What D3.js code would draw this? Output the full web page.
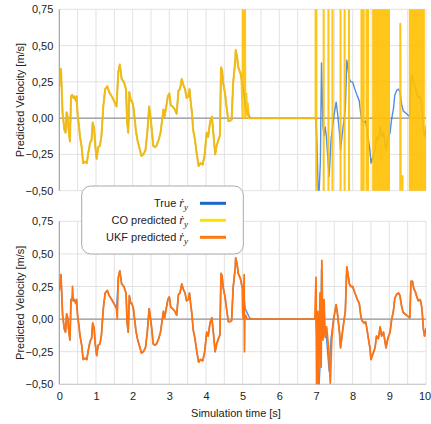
<!DOCTYPE html>
<html>
<head>
<meta charset="utf-8">
<script src="https://cdn.jsdelivr.net/npm/d3@7"></script>
<style>
  body { margin: 0; background: #fff; }
  text { font-family: "Liberation Sans", Arial, sans-serif; fill: #222; }
</style>
</head>
<body>
<div id="chart"></div>
<script>
// Tick values
var xTickValues = [0, 1, 2, 3, 4, 5, 6, 7, 8, 9, 10];
var xGridValues = [0, 0.5, 1, 1.5, 2, 2.5, 3, 3.5, 4, 4.5, 5, 5.5, 6, 6.5, 7, 7.5, 8, 8.5, 9, 9.5, 10];
var yTickValues = [-0.5, -0.25, 0, 0.25, 0.5, 0.75];

// True lateral velocity [time s, velocity m/s]
var trueVel = [
  [0.00, 0.22], [0.045, 0.34], [0.09, 0.03], [0.14, -0.08], [0.17, -0.10], [0.20, 0.04], [0.23, 0.01],
  [0.25, -0.07], [0.29, -0.16], [0.32, 0.15], [0.35, 0.16], [0.38, 0.14], [0.41, 0.15], [0.45, 0.12],
  [0.47, 0.15], [0.50, 0.02], [0.54, -0.06], [0.56, -0.12], [0.61, -0.20], [0.65, -0.31], [0.70, -0.30],
  [0.75, -0.31], [0.79, -0.24], [0.84, -0.17], [0.88, -0.15], [0.91, -0.03], [0.95, -0.07], [0.98, -0.19],
  [1.02, -0.28], [1.06, -0.20], [1.11, -0.19], [1.15, -0.12], [1.20, 0.08], [1.25, 0.20], [1.31, 0.22],
  [1.36, 0.18], [1.43, 0.15], [1.49, 0.12], [1.56, 0.08], [1.61, 0.32], [1.65, 0.37], [1.70, 0.27],
  [1.76, 0.25], [1.82, 0.20], [1.85, -0.03], [1.88, -0.10], [1.91, 0.18], [1.95, 0.12], [1.98, 0.12],
  [2.02, 0.08], [2.05, 0.01], [2.09, -0.09], [2.13, -0.15], [2.18, -0.20], [2.24, -0.26], [2.29, -0.25],
  [2.35, -0.22], [2.40, -0.10], [2.45, 0.08], [2.49, 0.00], [2.53, -0.10], [2.56, -0.19], [2.61, -0.20],
  [2.65, -0.19], [2.71, -0.15], [2.76, -0.10], [2.80, -0.02], [2.84, 0.06], [2.87, 0.01], [2.91, 0.07],
  [2.96, 0.15], [3.00, 0.17], [3.04, 0.09], [3.09, 0.08], [3.15, 0.06], [3.20, 0.03], [3.25, 0.19],
  [3.29, 0.20], [3.34, 0.27], [3.38, 0.23], [3.43, 0.20], [3.47, 0.14], [3.52, 0.15], [3.55, 0.20],
  [3.58, 0.12], [3.62, 0.03], [3.65, -0.08], [3.70, -0.15], [3.75, -0.25], [3.80, -0.33], [3.85, -0.31],
  [3.91, -0.32], [3.96, -0.26], [4.02, -0.10], [4.06, -0.13], [4.11, -0.03], [4.16, 0.01], [4.20, -0.10],
  [4.25, -0.25], [4.29, -0.19], [4.34, -0.15], [4.38, -0.12], [4.41, 0.35], [4.44, 0.33], [4.47, 0.24],
  [4.52, 0.17], [4.56, 0.08], [4.61, -0.02], [4.65, -0.02], [4.70, -0.01], [4.74, 0.24], [4.80, 0.40],
  [4.81, 0.47], [4.85, 0.42], [4.88, 0.35], [4.94, 0.31], [4.99, 0.24], [5.03, 0.19], [5.07, 0.08],
  [5.12, 0.05], [5.19, 0.01], [5.24, 0.00], [7.00, 0.00], [7.03, -0.20], [7.07, -0.60], [7.12, -0.30],
  [7.15, 0.38], [7.19, -0.05], [7.22, -0.12], [7.25, -0.06], [7.28, -0.12], [7.33, -0.30], [7.36, -0.40],
  [7.41, -0.15], [7.48, 0.00], [7.55, 0.11], [7.59, 0.03], [7.64, -0.10], [7.67, -0.22], [7.73, -0.08],
  [7.80, 0.06], [7.84, 0.40], [7.88, 0.33], [7.91, 0.27], [7.95, 0.25], [8.00, 0.25], [8.06, 0.20],
  [8.13, 0.15], [8.18, 0.12], [8.22, 0.03], [8.25, -0.01], [8.31, -0.03], [8.35, -0.02], [8.38, -0.06],
  [8.43, -0.15], [8.47, -0.22], [8.50, -0.31], [8.55, -0.27], [8.61, -0.22], [8.65, -0.13], [8.70, -0.15],
  [8.75, -0.06], [8.79, -0.13], [8.84, -0.10], [8.91, -0.22], [8.95, -0.16], [8.98, -0.13], [9.02, -0.10],
  [9.06, -0.01], [9.11, 0.06], [9.15, 0.16], [9.20, 0.19], [9.25, 0.20], [9.29, 0.18], [9.34, 0.09],
  [9.38, 0.05], [9.47, 0.03], [9.56, 0.01], [9.59, 0.29], [9.63, 0.29], [9.67, 0.23], [9.71, 0.21],
  [9.75, 0.17], [9.79, 0.14], [9.84, 0.15], [9.86, 0.13], [9.89, 0.08], [9.93, -0.08], [9.96, -0.13],
  [10.00, -0.07]
];

// CO prediction: follows the true curve until ~4.97 s, then these points (huge values run off the plot)
var coTail = [
  [4.97, 0.27], [5.00, 0.00], [5.01, 3], [5.03, 0.20], [5.05, 3], [5.07, 0.00], [5.10, 0.17], [5.12, 0.02],
  [5.14, 0.10], [5.17, 0.00], [5.25, 0.00], [6.99, 0.00],
  [7.00, 30], [7.02, -30], [7.20, -30], [7.22, 30], [7.33, 30], [7.35, -30], [7.44, -30], [7.46, 30],
  [7.66, 30], [7.68, -30], [7.77, -30], [7.79, 30], [7.89, 30], [7.91, -30],
  [8.23, -30], [8.25, 30], [8.26, 30], [8.28, -30], [8.29, -30], [8.31, 30], [8.37, 30], [8.39, -30],
  [8.41, -30], [8.43, 30], [8.55, 30], [8.57, -30], [8.59, -30], [8.61, 30], [8.63, 30], [8.65, -30],
  [8.66, -30], [8.68, 30], [8.71, 30], [8.73, -30], [8.74, -30], [8.76, 30], [8.77, 30], [8.79, -30],
  [8.81, -30], [8.83, 30], [8.84, 30], [8.86, -30], [8.88, -30], [8.90, 30], [8.91, 30], [8.93, -30],
  [8.95, -30], [8.97, 30], [8.98, 30], [9.00, -30],
  [9.29, -30], [9.30, 0.65], [9.31, -0.45], [9.36, -0.40], [9.38, -30],
  [9.55, -30], [9.57, 30], [9.58, 30], [9.60, -30], [9.61, -30], [9.63, 30], [9.65, 30], [9.67, -30],
  [9.69, -30], [9.71, 30], [9.72, 30], [9.74, -30], [9.76, -30], [9.78, 30], [9.79, 30], [9.81, -30],
  [9.83, -30], [9.85, 30], [9.86, 30], [9.88, -30], [9.89, -30], [9.91, 30], [9.93, 30], [9.95, -30],
  [9.96, -30], [9.97, -0.05]
];

// UKF prediction: follows the true curve except for these stretches
var ukfSpikes = [[0.36, 0.25], [1.58, 0.00]];
var ukfMid = [
  [5.00, 0.05], [5.02, 0.00], [5.04, 0.34], [5.05, -0.25], [5.06, 0.02], [5.08, 0.03], [5.12, 0.00],
  [6.97, 0.00], [7.00, 0.32], [7.02, -0.52], [7.05, 0.06], [7.07, -0.52], [7.11, 0.20], [7.14, -0.37],
  [7.16, 0.45], [7.19, -0.16], [7.22, 0.15], [7.25, -0.14], [7.29, -0.06], [7.34, -0.21], [7.39, -0.49],
  [7.43, -0.16]
];

var coVel = trueVel.filter(function (d) { return d[0] < 4.97; }).concat(coTail);
var ukfVel = trueVel.filter(function (d) { return d[0] < 5.0 || d[0] > 7.45; })
  .concat(ukfMid, ukfSpikes)
  .sort(function (a, b) { return a[0] - b[0]; });

var width = 431, height = 424;

var svg = d3.select("#chart")
  .append("svg")
    .attr("width", width)
    .attr("height", height);

var x = d3.scaleLinear().domain([0, 10]).range([59.3, 426]);

var fmt = d3.formatLocale({ decimal: ",", thousands: ".", grouping: [3], currency: ["", ""], minus: "\u2212" }).format(".2f");

var panels = [
  {
    id: "top",
    y: d3.scaleLinear().domain([-0.5, 0.75]).range([190.7, 9.3]),
    lines: [
      { data: trueVel, color: "#2f7be3", w: 1.4, op: 0.85 },
      { data: coVel, color: "#ffbf00", w: 2.1, op: 0.9 }
    ]
  },
  {
    id: "bottom",
    y: d3.scaleLinear().domain([-0.5, 0.75]).range([384.3, 221.3]),
    lines: [
      { data: trueVel, color: "#2f7be3", w: 1.4, op: 0.85 },
      { data: ukfVel, color: "#ff7410", w: 1.8, op: 1 }
    ],
    xAxis: true
  }
];

panels.forEach(function (p) {
  var y = p.y;
  var g = svg.append("g");
  var x0 = x.range()[0], x1 = x.range()[1];
  var yTop = y.range()[1], yBot = y.range()[0];

  // grid
  g.selectAll(".vg").data(xGridValues).enter().append("line")
    .attr("x1", function (d) { return x(d); }).attr("x2", function (d) { return x(d); })
    .attr("y1", yTop).attr("y2", yBot)
    .attr("stroke", "#e2e2e2").attr("stroke-width", 1);
  g.selectAll(".hg").data(yTickValues).enter().append("line")
    .attr("x1", x0).attr("x2", x1)
    .attr("y1", function (d) { return y(d); }).attr("y2", function (d) { return y(d); })
    .attr("stroke", "#e2e2e2").attr("stroke-width", 1);

  // zero line and left axis
  g.append("line").attr("x1", x0).attr("x2", x1).attr("y1", y(0)).attr("y2", y(0))
    .attr("stroke", "#808080").attr("stroke-width", 1);
  g.append("line").attr("x1", x0).attr("x2", x0).attr("y1", yTop).attr("y2", yBot)
    .attr("stroke", "#9a9a9a").attr("stroke-width", 1);
  if (p.xAxis) {
    g.append("line").attr("x1", x0).attr("x2", x1).attr("y1", yBot).attr("y2", yBot)
      .attr("stroke", "#c8c8c8").attr("stroke-width", 1);
  }

  // clip
  svg.append("clipPath").attr("id", "clip-" + p.id)
    .append("rect").attr("x", x0).attr("y", yTop).attr("width", x1 - x0).attr("height", yBot - yTop);

  var line = d3.line()
    .x(function (d) { return x(d[0]); })
    .y(function (d) { return y(d[1]); });

  var lg = g.append("g").attr("clip-path", "url(#clip-" + p.id + ")");
  p.lines.forEach(function (s) {
    lg.append("path")
      .datum(s.data)
      .attr("d", line)
      .attr("fill", "none")
      .attr("stroke", s.color)
      .attr("stroke-width", s.w)
      .attr("stroke-opacity", s.op)
      .attr("stroke-linejoin", "round");
  });

  // y axis labels
  var ya = g.append("g").attr("transform", "translate(" + x0 + ",0)")
    .call(d3.axisLeft(y).tickValues(yTickValues).tickSize(0).tickPadding(6).tickFormat(fmt));
  ya.select(".domain").remove();
  ya.selectAll("text").style("font-size", "11px").style("font-family", "\"Liberation Sans\", Arial, sans-serif").attr("fill", "#222");

  // y title
  g.append("text")
    .attr("transform", "translate(24," + ((yTop + yBot) / 2) + ") rotate(-90)")
    .attr("text-anchor", "middle")
    .style("font-size", "11px")
    .text("Predicted Velocity [m/s]");

  if (p.xAxis) {
    var xa = g.append("g").attr("transform", "translate(0," + yBot + ")")
      .call(d3.axisBottom(x).tickValues(xTickValues).tickSize(0).tickPadding(8).tickFormat(d3.format("d")));
    xa.select(".domain").remove();
    xa.selectAll("text").style("font-size", "11px").style("font-family", "\"Liberation Sans\", Arial, sans-serif").attr("fill", "#222");
    // keep the last label inside the window
    xa.selectAll("text").filter(function (d) { return d === 10; }).attr("dx", "-1.5");

    g.append("text")
      .attr("x", 236)
      .attr("y", 417)
      .attr("text-anchor", "middle")
      .style("font-size", "11px")
      .text("Simulation time [s]");
  }
});

// legend
var legendItems = [
  { label: "True ", color: "#1b68cc" },
  { label: "CO predicted ", color: "#ffe100" },
  { label: "UKF predicted ", color: "#ff7a0e" }
];
var leg = svg.append("g");
leg.append("rect")
  .attr("x", 81.7).attr("y", 186).attr("width", 161.6).attr("height", 68)
  .attr("rx", 9).attr("ry", 9)
  .attr("fill", "#fff").attr("stroke", "#aaa").attr("stroke-width", 1);

legendItems.forEach(function (d, i) {
  var cy = 203.3 + i * 17;
  var t = leg.append("text")
    .attr("x", 188)
    .attr("y", cy + 3.5)
    .attr("text-anchor", "end")
    .style("font-size", "11px");
  t.append("tspan").text(d.label);
  t.append("tspan")
    .style("font-family", "\"Liberation Serif\", \"DejaVu Serif\", serif")
    .style("font-style", "italic")
    .style("font-size", "12px")
    .text("r\u0307");
  t.append("tspan")
    .attr("dy", 3)
    .style("font-family", "\"Liberation Serif\", \"DejaVu Serif\", serif")
    .style("font-style", "italic")
    .style("font-size", "9px")
    .text("y");
  leg.append("line")
    .attr("x1", 200).attr("x2", 226)
    .attr("y1", cy).attr("y2", cy)
    .attr("stroke", d.color).attr("stroke-width", 3);
});
</script>
</body>
</html>
